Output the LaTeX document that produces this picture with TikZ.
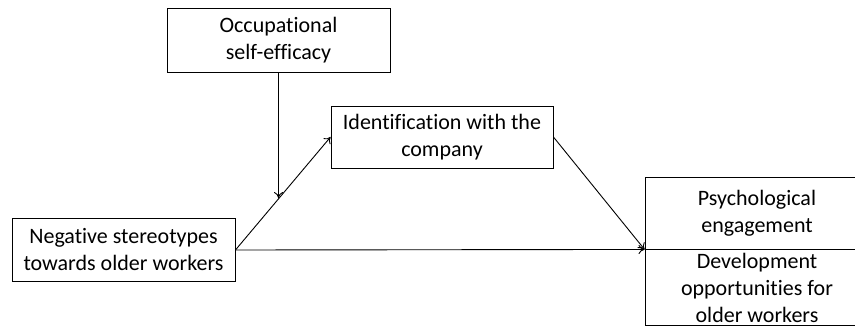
\documentclass[tikz,border=0pt]{standalone}
\usepackage{fontspec}
\setmainfont{Carlito}[Ligatures=NoCommon]
\usetikzlibrary{arrows.meta, positioning, calc}

\begin{document}
\begin{tikzpicture}[
	x=1pt, y=-1pt,
	every node/.style={font=\fontsize{22}{27}\selectfont},
	block/.style={
		rectangle, draw, line width=0.9pt, inner sep=0pt,
		minimum width=223pt, align=center
	},
	arrow/.style={-{To[length=6pt, width=9pt]}, line width=0.9pt}
	]
	\useasboundingbox (0,0) rectangle (855,327);
	
	% Nodes
	\node[block, minimum height=63pt] (negative) at (123.5,250) {Negative stereotypes\\ towards older workers};
	\node[block, minimum height=64pt] (efficacy) at (278.5,40) {Occupational\\ self-efficacy};
	\node[block, minimum height=62pt, minimum width=222pt] (identification) at (442,137) {Identification with the\\ company};
	\node[block, minimum height=72pt, minimum width=224pt] (engagement) at (757,213) {Psychological\\ engagement};
	\node[block, minimum height=76pt, minimum width=224pt, below=0pt of engagement] (development) {Development\\ opportunities for\\ older workers};
	
	% Arrows
	\draw[arrow] (negative.east) -- coordinate[pos=0.46] (moderation) (identification.west);
	\draw[arrow] (efficacy.south) -- (efficacy.south |- moderation);
	\draw[arrow] (identification.east) -- (engagement.south west);
	\draw[arrow] (negative.east) -- (engagement.south west);
\end{tikzpicture}
\end{document}
